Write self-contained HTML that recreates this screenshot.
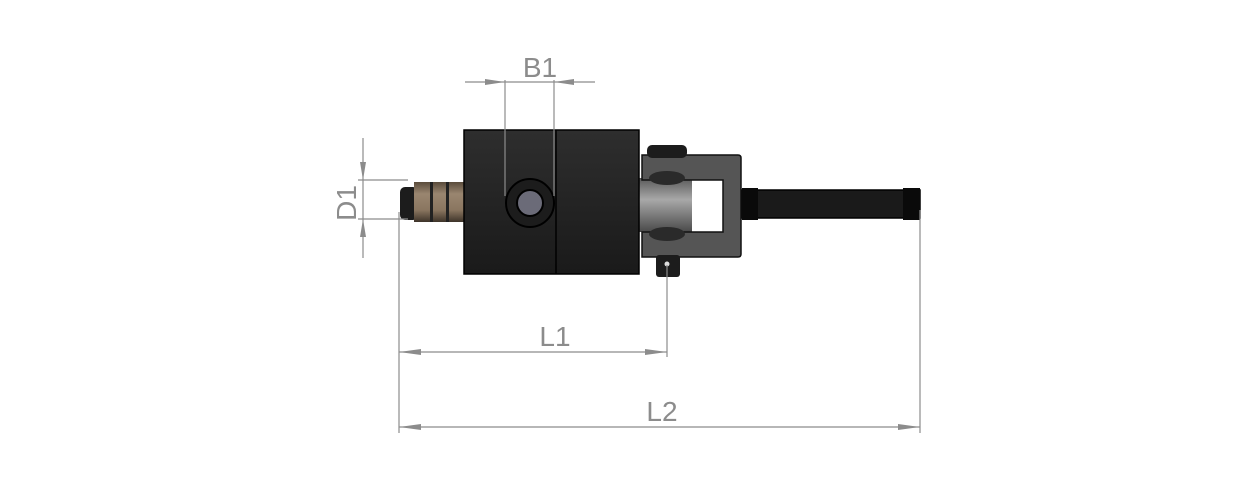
<!DOCTYPE html>
<html><head><style>html,body{margin:0;padding:0;background:#fff;}svg{display:block}</style></head>
<body>
<svg width="1238" height="489" viewBox="0 0 1238 489" xmlns="http://www.w3.org/2000/svg">
<defs>
<linearGradient id="tan" x1="0" y1="0" x2="0" y2="1"><stop offset="0" stop-color="#5a4c3c"/><stop offset="0.3" stop-color="#9a8670"/><stop offset="0.7" stop-color="#8a7660"/><stop offset="1" stop-color="#3e342a"/></linearGradient>
<linearGradient id="cyl" x1="0" y1="0" x2="0" y2="1"><stop offset="0" stop-color="#5a5a5a"/><stop offset="0.4" stop-color="#a8a8a8"/><stop offset="1" stop-color="#4a4a4a"/></linearGradient>
<linearGradient id="body" x1="0" y1="0" x2="0" y2="1"><stop offset="0" stop-color="#2e2e2e"/><stop offset="1" stop-color="#1a1a1a"/></linearGradient>
</defs>
<!-- rod -->
<rect x="742" y="190" width="178" height="28" fill="#1a1a1a" stroke="#000" stroke-width="1.5"/>
<rect x="742" y="188" width="16" height="32" fill="#0a0a0a"/>
<rect x="903" y="188" width="17" height="32" fill="#0a0a0a"/>
<!-- cylinder -->
<rect x="636" y="178" width="56" height="54" fill="url(#cyl)"/>
<!-- clevis -->
<path d="M642 155 H738 Q741 155 741 158 V254 Q741 257 738 257 H642 V232 H723 V180 H642 Z" fill="#555" stroke="#111" stroke-width="1.5"/>
<rect x="647" y="145" width="40" height="13" rx="5" fill="#1c1c1c"/>
<ellipse cx="667" cy="178" rx="18" ry="7" fill="#2a2a2a"/>
<ellipse cx="667" cy="234" rx="18" ry="7" fill="#2a2a2a"/>
<rect x="656" y="255" width="24" height="22" rx="3" fill="#1c1c1c"/>
<circle cx="667" cy="264" r="2.5" fill="#ddd"/>
<!-- nozzle -->
<rect x="400" y="187" width="18" height="33" rx="5" fill="#1c1c1c"/>
<rect x="414" y="182" width="52" height="40" fill="url(#tan)"/>
<rect x="430" y="182" width="3" height="40" fill="#222"/>
<rect x="446" y="182" width="3" height="40" fill="#222"/>
<!-- body -->
<rect x="464" y="130" width="175" height="144" fill="url(#body)" stroke="#000" stroke-width="1.5"/>
<line x1="556" y1="130" x2="556" y2="274" stroke="#000" stroke-width="1.5"/>
<circle cx="530" cy="203" r="24" fill="#1c1c1c" stroke="#000" stroke-width="2"/>
<circle cx="530" cy="203" r="13" fill="#6b6b78" stroke="#000" stroke-width="2"/>
<!-- dimension lines -->
<g stroke="#8c8c8c" stroke-width="1.2" fill="none">
<line x1="505" y1="80" x2="505" y2="196"/>
<line x1="554" y1="80" x2="554" y2="196"/>
<line x1="465" y1="82" x2="595" y2="82"/>
<line x1="358" y1="180" x2="408" y2="180"/>
<line x1="358" y1="219" x2="408" y2="219"/>
<line x1="363" y1="138" x2="363" y2="258"/>
<line x1="399" y1="212" x2="399" y2="433"/>
<line x1="667" y1="265" x2="667" y2="357"/>
<line x1="920" y1="210" x2="920" y2="433"/>
<line x1="399" y1="352" x2="667" y2="352"/>
<line x1="399" y1="427" x2="920" y2="427"/>
</g>
<g fill="#8c8c8c">
<polygon points="505,82 485,79 485,85"/>
<polygon points="554,82 574,79 574,85"/>
<polygon points="363,180 360,162 366,162"/>
<polygon points="363,219 360,237 366,237"/>
<polygon points="399,352 421,349 421,355"/>
<polygon points="667,352 645,349 645,355"/>
<polygon points="399,427 421,424 421,430"/>
<polygon points="920,427 898,424 898,430"/>
</g>
<g font-family="Liberation Sans, sans-serif" font-size="28" fill="#8c8c8c">
<text x="540" y="77" text-anchor="middle">B1</text>
<text x="555" y="346" text-anchor="middle">L1</text>
<text x="662" y="421" text-anchor="middle">L2</text>
<text transform="translate(356,203) rotate(-90)" text-anchor="middle">D1</text>
</g>
</svg>
</body></html>
